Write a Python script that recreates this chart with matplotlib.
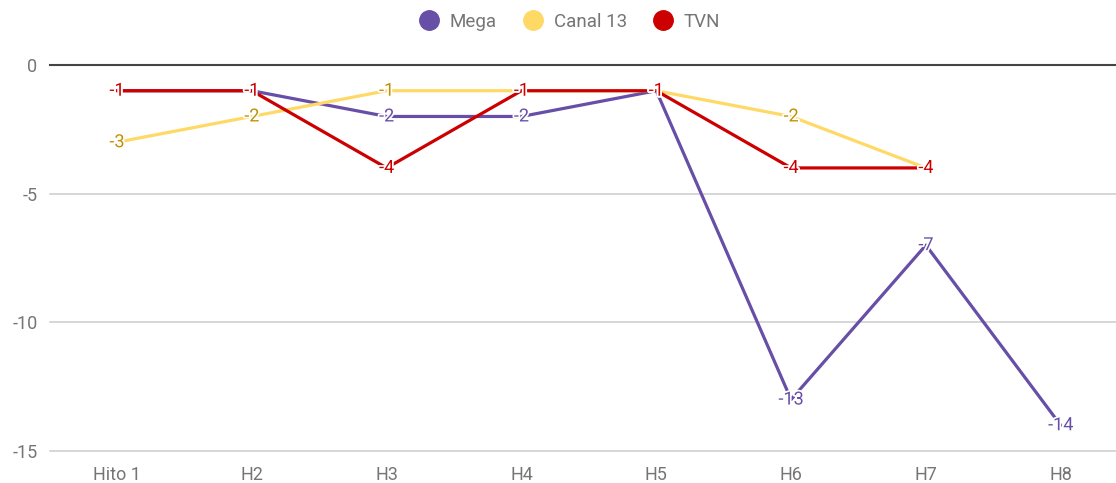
import matplotlib
matplotlib.use("Agg")
import matplotlib.pyplot as plt
import matplotlib.patheffects as pe
from matplotlib.lines import Line2D
import numpy as np

categories = ["Hito 1", "H2", "H3", "H4", "H5", "H6", "H7", "H8"]
mega = [-1, -1, -2, -2, -1, -13, -7, -14]
canal13 = [-3, -2, -1, -1, -1, -2, -4, None]
tvn = [-1, -1, -4, -1, -1, -4, -4, None]

series = [
    ("Mega", mega, "#674ea7", "#674ea7"),
    ("Canal 13", canal13, "#ffd966", "#bf9000"),
    ("TVN", tvn, "#cc0000", "#cc0000"),
]

plt.rcParams['font.family'] = ['Roboto', 'DejaVu Sans']
fig = plt.figure(figsize=(11.16, 4.83), dpi=100)
ax = fig.add_axes([50/1116, 32/483, 1066/1116, 386/483])

x = np.arange(len(categories))
for name, vals, col, lcol in series:
    xs = [xi for xi, v in zip(x, vals) if v is not None]
    ys = [v for v in vals if v is not None]
    ax.plot(xs, ys, color=col, lw=2.3, solid_capstyle='round', zorder=3)

for name, vals, col, lcol in series:
    for xi, v in zip(x, vals):
        if v is None:
            continue
        ax.text(xi, v, str(v), color=lcol, fontsize=13, ha='center', va='center', zorder=5,
                path_effects=[pe.withStroke(linewidth=2.5, foreground='white')])

ax.set_xlim(-0.497, 7.41)
ax.set_ylim(-15, 0)
ax.set_yticks([0, -5, -10, -15])
ax.set_yticklabels(["0", "-5", "-10", "-15"])
ax.set_xticks(x)
ax.set_xticklabels(categories)
for s in ax.spines.values():
    s.set_visible(False)
ax.tick_params(length=0, labelsize=13, labelcolor='#757575')
ax.tick_params(axis='y', pad=9)
ax.tick_params(axis='x', pad=11)
for yv in [-5, -10, -15]:
    ax.axhline(yv, color='#cccccc', lw=1.1, zorder=1, clip_on=False)
ax.axhline(0, color='#444444', lw=1.5, zorder=2, clip_on=False)

handles = [Line2D([0], [0], marker='o', color='none', markerfacecolor=c, markeredgecolor=c,
                  markersize=14) for _, _, c, _ in series]
fig.legend(handles, [s[0] for s in series], loc='center', bbox_to_anchor=(567/1116, 1 - 22/483),
           ncol=3, frameon=False, fontsize=13.5, labelcolor='#757575', handletextpad=0.3,
           columnspacing=1.15, handlelength=1.6)

fig.savefig("out.png", dpi=100)
